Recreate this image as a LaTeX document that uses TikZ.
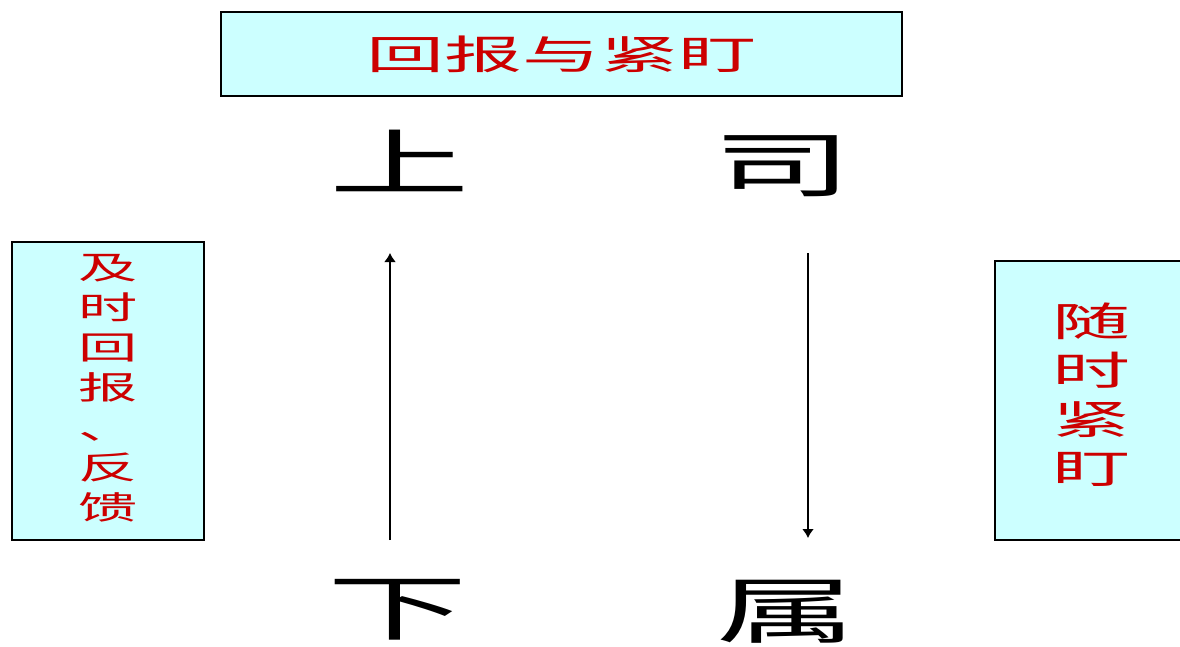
\documentclass[tikz,border=0pt]{standalone}
\usepackage{fontspec}
\usepackage{graphicx}
\usepackage{xcolor}
\usetikzlibrary{arrows.meta}
\newfontfamily\cjk{Noto Sans CJK SC}
\definecolor{boxcyan}{HTML}{CCFFFF}
\definecolor{notered}{HTML}{CC0000}
% stretched text, as in the slide
\newcommand{\wide}[2]{\scalebox{#1}[1]{#2}}
\newcommand{\colstack}[2]{\scalebox{#1}[1]{\begin{tabular}{@{}c@{}}#2\end{tabular}}}

\begin{document}
\begin{tikzpicture}[x=1pt,y=-1pt,
    notebox/.style={draw,line width=1.2pt,fill=boxcyan,inner sep=0pt},
    bigchar/.style={font=\cjk\fontsize{72}{72}\selectfont,inner sep=0pt},
    redtext/.style={text=notered},
    flowarrow/.style={line width=2pt,-{Latex[length=9pt,width=12pt]}}]
        \fill[white] (0,0) rectangle (1180,646);
        \useasboundingbox (0,0) rectangle (1180,646);
        % boxes
        \node[notebox,redtext,minimum width=681pt,minimum height=84pt,font=\cjk\fontsize{40}{40}\selectfont] (report) at (561.5,54) {\wide{1.95}{回报与紧盯}};
        \node[notebox,redtext,minimum width=192pt,minimum height=298pt,font=\cjk\fontsize{32}{40}\selectfont] (leftnote) at (108,391) {\colstack{1.85}{及\\时\\回\\报\\、\\反\\馈}};
        \node[notebox,redtext,minimum width=192pt,minimum height=279pt,font=\cjk\fontsize{40}{49}\selectfont] (rightnote) at (1091,400.5) {\colstack{1.95}{随\\时\\紧\\盯}};
        % boss and staff
        \node[bigchar] (shang) at (400,161) {\wide{1.95}{上}};
        \node[bigchar] (si) at (783,166) {\wide{1.95}{司}};
        \node[bigchar] (xia) at (398,610) {\wide{1.95}{下}};
        \node[bigchar] (shu) at (787,612) {\wide{1.95}{属}};
        % arrows
        \coordinate (upfoot) at (390,540);
        \coordinate (uptip) at (390,253);
        \coordinate (downtop) at (808,253);
        \coordinate (downtip) at (808,538);
        \draw[flowarrow] (upfoot) -- (uptip);
        \draw[flowarrow] (downtop) -- (downtip);
\end{tikzpicture}
\end{document}
